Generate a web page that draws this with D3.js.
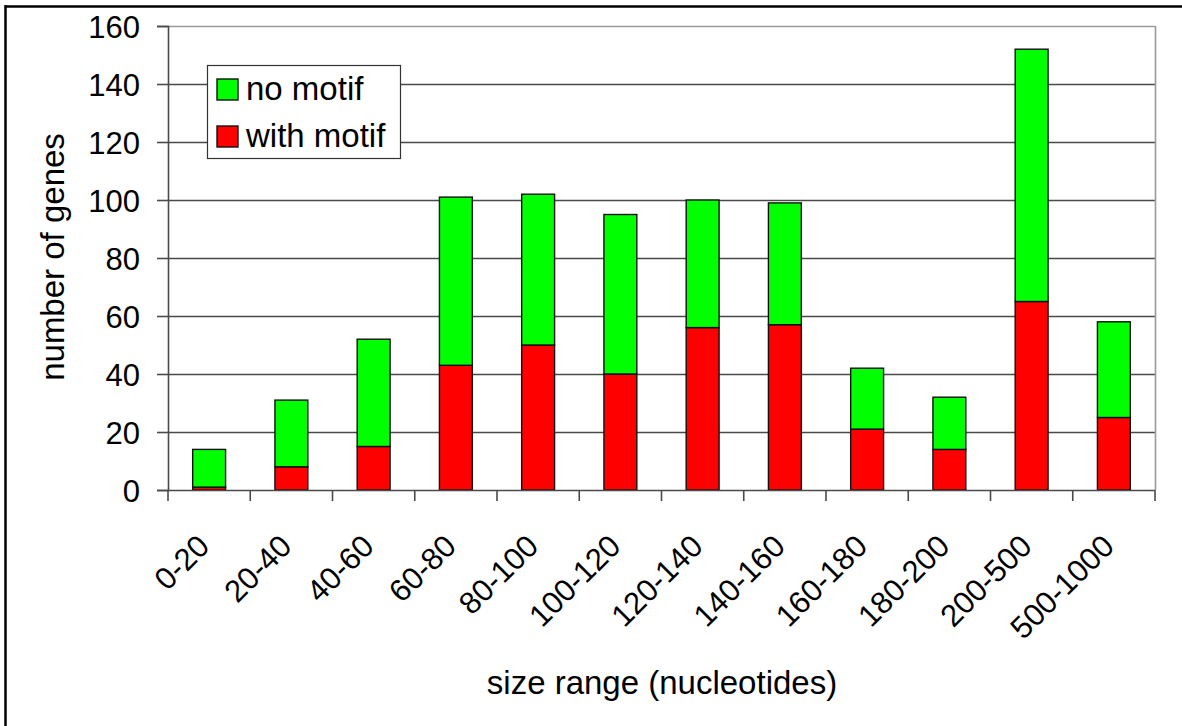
<!DOCTYPE html>
<html>
<head>
<meta charset="utf-8">
<script src="https://cdn.jsdelivr.net/npm/d3@7/dist/d3.min.js"></script>
<style>
  html, body { margin: 0; padding: 0; background: #fff; }
  svg { display: block; }
  text { font-family: "Liberation Sans", Arial, sans-serif; fill: #000; }
</style>
</head>
<body>
<svg id="chart" width="1182" height="726"></svg>
<script>
const categories = ["0-20","20-40","40-60","60-80","80-100","100-120","120-140","140-160","160-180","180-200","200-500","500-1000"];
const withMotif = [1, 8, 15, 43, 50, 40, 56, 57, 21, 14, 65, 25];
const noMotif   = [13, 23, 37, 58, 52, 55, 44, 42, 21, 18, 87, 33];
const yTicks = [0, 20, 40, 60, 80, 100, 120, 140, 160];
const seriesNames = ["with motif", "no motif"];
const seriesColors = ["#ff0000", "#00ff00"];
const xTitle = "size range (nucleotides)";
const yTitle = "number of genes";

const svg = d3.select("#chart");

// outer frame (top and left lines)
svg.append("line").attr("x1", 5).attr("x2", 1182).attr("y1", 6.5).attr("y2", 6.5).attr("stroke", "#000").attr("stroke-width", 2.5);
svg.append("line").attr("x1", 5.5).attr("x2", 5.5).attr("y1", 5).attr("y2", 726).attr("stroke", "#000").attr("stroke-width", 2.5);

const pLeft = 168, pRight = 1155, pTop = 26, pBottom = 490;

const x = d3.scaleBand().domain(categories).range([pLeft, pRight]).paddingInner(0.6).paddingOuter(0.3);
const y = d3.scaleLinear().domain([0, 160]).range([pBottom, pTop]);

// gridlines
svg.append("g").selectAll("line").data(yTicks.filter(d => d > 0)).join("line")
  .attr("x1", pLeft).attr("x2", pRight)
  .attr("y1", d => Math.round(y(d)) + 0.5).attr("y2", d => Math.round(y(d)) + 0.5)
  .attr("stroke", d => d === 160 ? "#9a9a9a" : "#4a4a4a").attr("stroke-width", 1.6);

// right border of plot area
svg.append("line").attr("x1", pRight + 0.5).attr("x2", pRight + 0.5).attr("y1", pTop).attr("y2", pBottom)
  .attr("stroke", "#9a9a9a").attr("stroke-width", 1.6);

// stacked bars
const table = categories.map((c, i) => ({ cat: c, "with motif": withMotif[i], "no motif": noMotif[i] }));
const stack = d3.stack().keys(seriesNames)(table);
svg.append("g").selectAll("g").data(stack).join("g")
  .attr("fill", (d, i) => seriesColors[i])
  .selectAll("rect").data(d => d).join("rect")
  .attr("x", d => x(d.data.cat))
  .attr("width", x.bandwidth())
  .attr("y", d => y(d[1]))
  .attr("height", d => y(d[0]) - y(d[1]))
  .attr("stroke", "#111").attr("stroke-width", 1.4);

// y axis
const yAxis = d3.axisLeft(y).tickValues(yTicks).tickSize(11).tickPadding(17).tickFormat(d3.format("d"));
const gy = svg.append("g").attr("transform", `translate(${pLeft},0)`).call(yAxis);
gy.select(".domain").attr("stroke", "#4a4a4a").attr("stroke-width", 1.6);
gy.selectAll(".tick line").attr("stroke", "#4a4a4a").attr("stroke-width", 1.6);
gy.selectAll(".tick text").style("font-size", "31px").attr("font-family", "Liberation Sans, Arial, sans-serif").attr("dy", "0.36em");

// x axis line and boundary ticks
svg.append("line").attr("x1", pLeft).attr("x2", pRight).attr("y1", pBottom + 0.5).attr("y2", pBottom + 0.5)
  .attr("stroke", "#4a4a4a").attr("stroke-width", 1.6);
const step = x.step();
const boundaries = categories.map(c => x(c) - step * x.paddingInner() / 2).concat([pRight]);
svg.append("g").selectAll("line").data(boundaries).join("line")
  .attr("x1", d => d).attr("x2", d => d).attr("y1", pBottom).attr("y2", pBottom + 11)
  .attr("stroke", "#4a4a4a").attr("stroke-width", 1.6);

// x tick labels rotated
svg.append("g").selectAll("text").data(categories).join("text")
  .attr("transform", d => `translate(${x(d) + x.bandwidth() / 2 + 2},548) rotate(-45)`)
  .attr("text-anchor", "end")
  .style("font-size", "31px")
  .text(d => d);

// axis titles
svg.append("text").attr("x", 662).attr("y", 694).attr("text-anchor", "middle").style("font-size", "33px").text(xTitle);
svg.append("text").attr("transform", "translate(64,257) rotate(-90)").attr("text-anchor", "middle").style("font-size", "33px").text(yTitle);

// legend
const lg = svg.append("g");
lg.append("rect").attr("x", 207.5).attr("y", 65.5).attr("width", 193).attr("height", 93)
  .attr("fill", "#fff").attr("stroke", "#333").attr("stroke-width", 1.2);
const legendItems = [{ name: "no motif", color: seriesColors[1] }, { name: "with motif", color: seriesColors[0] }];
legendItems.forEach((it, i) => {
  const yy = 79 + i * 47;
  lg.append("rect").attr("x", 217).attr("y", yy).attr("width", 21).attr("height", 21)
    .attr("fill", it.color).attr("stroke", "#111").attr("stroke-width", 1.4);
  lg.append("text").attr("x", 246).attr("y", yy + 21).style("font-size", "33px").text(it.name);
});
</script>
</body>
</html>
